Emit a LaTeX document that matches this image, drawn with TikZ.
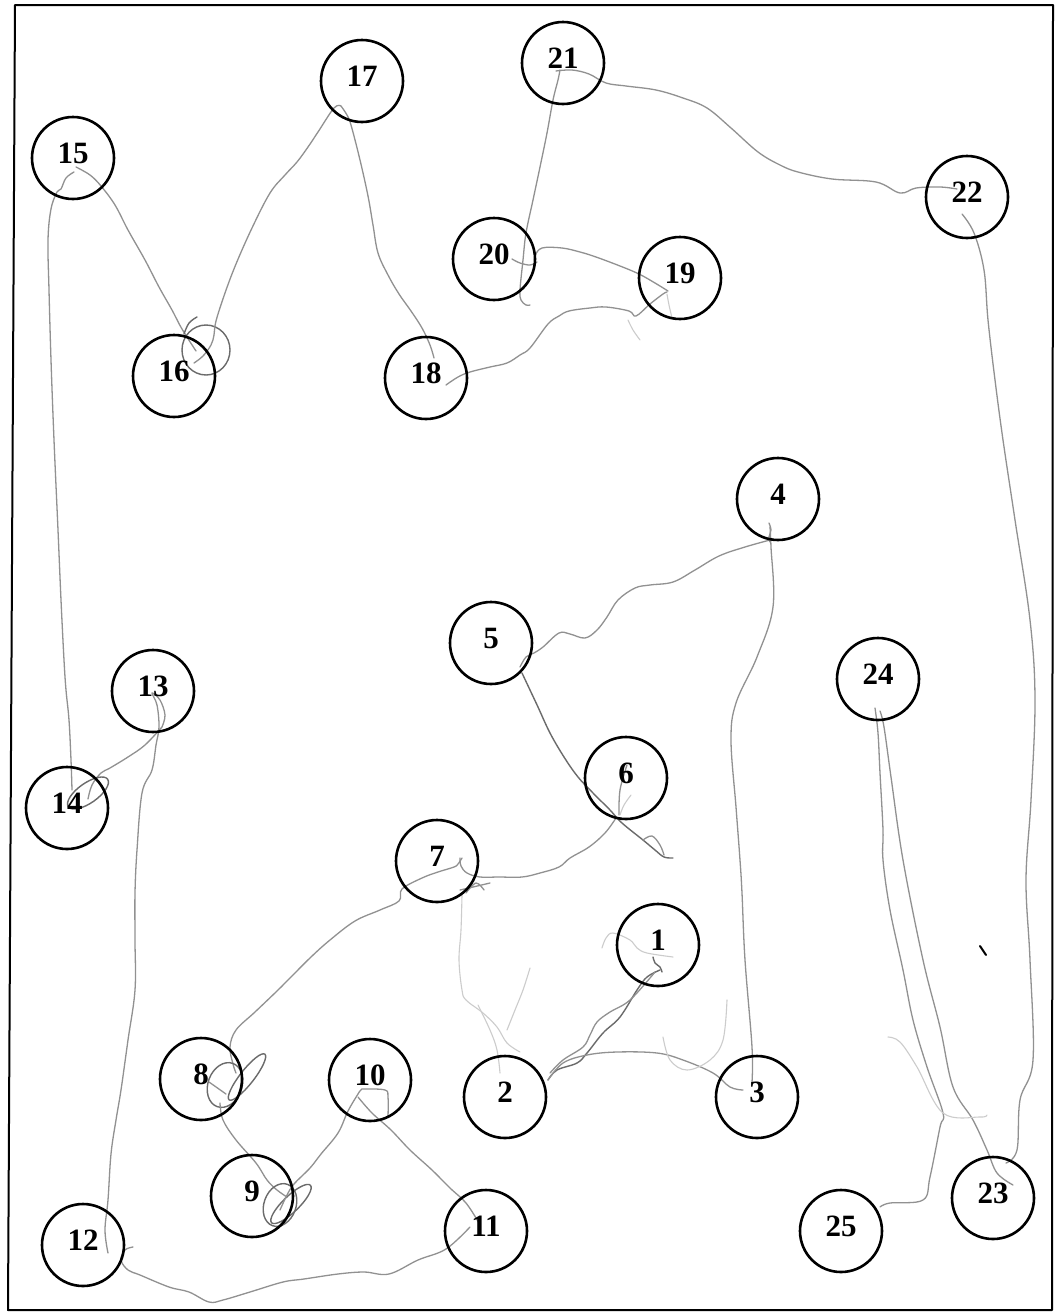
\documentclass[tikz,border=0pt]{standalone}
\usepackage{fontspec}
\setmainfont{Liberation Serif}
\begin{document}
\begin{tikzpicture}[x=1pt,y=-1pt,
  tmt/.style={circle,draw=black,line width=2.6pt,minimum size=82pt,inner sep=0pt},
  lab/.style={font=\bfseries\fontsize{31}{31}\selectfont,inner sep=0pt,text=black},
  trail/.style={draw=black!43,line width=1.3pt,line cap=round,line join=round},
  dk/.style={draw=black!58,line width=1.4pt,line cap=round,line join=round},
  faint/.style={draw=black!20,line width=1.1pt,line cap=round,line join=round}]
\useasboundingbox (0,0) rectangle (1058,1312);
\fill[white] (0,0) rectangle (1058,1312);
\draw[line width=2pt,line join=round] (15,5) -- (1053,5) -- (1052,1310) -- (8,1310) -- cycle;

% ---------- trail (hand drawn) ----------
% 1 -> 2
\draw[dk] plot[smooth,tension=0.6] coordinates {(660,970) (647,977) (637,990) (620,1017) (603,1033) (587,1053) (577,1063) (557,1070) (548,1080)};
\draw[trail] plot[smooth,tension=0.6] coordinates {(655,972) (630,1000) (610,1012) (597,1022) (590,1035) (583,1047) (563,1060) (550,1073)};
\draw[dk] plot[smooth,tension=0.6] coordinates {(653,957) (655,963) (660,967) (662,972)};
\draw[faint] plot[smooth,tension=0.6] coordinates {(602,948) (606,938) (613,933) (630,940) (637,948) (647,953) (673,957)};
% 2 -> 3
\draw[trail] plot[smooth,tension=0.6] coordinates {(548,1080) (563,1063) (587,1055) (617,1052) (657,1053) (683,1060) (713,1073) (730,1087) (743,1090)};
\draw[faint] plot[smooth,tension=0.6] coordinates {(663,1037) (670,1060) (687,1070) (710,1060) (723,1040) (727,1000)};
% 3 -> 4
\draw[trail] plot[smooth,tension=0.6] coordinates {(752,1082) (752,1047) (745,960) (742,893) (740,860) (736,807) (731,740) (736,703) (757,657) (773,607) (771,547) (770,527)};
\draw[trail] plot[smooth,tension=0.6] coordinates {(769,523) (771,530) (769,537) (770,542)};
% 4 -> 5
\draw[trail] plot[smooth,tension=0.6] coordinates {(770,540) (745,547) (719,556) (695,570) (673,582) (650,585) (635,588) (618,600) (607,617) (597,630) (585,638) (570,634) (559,633) (543,647) (534,653) (526,657) (520,667)};
% 5 -> 6
\draw[dk] plot[smooth,tension=0.6] coordinates {(522,673) (530,690) (538,707) (550,733) (564,757) (578,777) (593,793) (610,810) (622,823) (643,840) (655,850) (664,857) (673,858)};
\draw[trail] plot[smooth,tension=0.6] coordinates {(643,840) (652,836) (660,845) (664,855)};
\draw[trail] plot[smooth,tension=0.6] coordinates {(627,765) (620,790) (619,815)};
\draw[faint] plot[smooth,tension=0.6] coordinates {(631,795) (624,805) (620,815)};
% 6 -> 7
\draw[trail] plot[smooth,tension=0.6] coordinates {(616,818) (605,833) (589,847) (570,858) (559,867) (540,873) (522,877) (499,877) (480,877) (467,873) (461,866) (460,858)};
\draw[trail] plot[smooth,tension=0.6] coordinates {(460,890) (473,887) (490,883)};
\draw[trail] plot[smooth,tension=0.6] coordinates {(466,893) (476,883) (484,890)};
% 7 -> 2 (faint)
\draw[faint] plot[smooth,tension=0.6] coordinates {(462,895) (461,930) (459,960) (462,990) (466,1000) (483,1013) (497,1027) (507,1043) (520,1052)};
\draw[faint] plot[smooth,tension=0.6] coordinates {(478,1005) (490,1030) (497,1050) (500,1073)};
\draw[faint] plot[smooth,tension=0.6] coordinates {(507,1030) (515,1010) (523,990) (530,968)};
% 7 -> 8
\draw[trail] plot[smooth,tension=0.6] coordinates {(462,858) (458,864) (454,867) (438,872) (422,878) (402,889) (399,901) (380,910) (355,921) (330,940) (311,957) (290,978) (277,991) (255,1012) (236,1030) (230,1047) (233,1064) (236,1073)};
\draw[dk,rotate around={-20:(225,1085)}] (225,1085) ellipse [x radius=17, y radius=23];
\draw[dk,rotate around={52:(247,1077)}] (247,1077) ellipse [x radius=29, y radius=7];
\draw[trail] (209,1082) -- (226,1094);
% 8 -> 9
\draw[trail] plot[smooth,tension=0.6] coordinates {(220,1103) (223,1120) (236,1140) (256,1163) (267,1180) (277,1190) (287,1197)};
\draw[dk,rotate around={-20:(280,1205)}] (280,1205) ellipse [x radius=16, y radius=22];
\draw[dk,rotate around={44:(291,1204)}] (291,1204) ellipse [x radius=27, y radius=8];
% 9 -> 10
\draw[trail] plot[smooth,tension=0.6] coordinates {(280,1210) (287,1195) (294,1184) (310,1168) (321,1154) (338,1133) (348,1111) (358,1094) (361,1090) (364,1089) (385,1090) (388,1097) (388,1117)};
% 10 -> 11
\draw[trail] plot[smooth,tension=0.6] coordinates {(358,1097) (372,1113) (391,1130) (410,1150) (432,1170) (450,1188) (466,1203) (479,1223)};
% 11 -> 12
\draw[trail] plot[smooth,tension=0.6] coordinates {(470,1227) (446,1249) (418,1260) (389,1274) (364,1272) (338,1274) (304,1279) (283,1282) (250,1292) (223,1300) (209,1302) (189,1292) (169,1287) (140,1275) (128,1270) (121,1260) (125,1250) (133,1247)};
% 12 -> 13
\draw[trail] plot[smooth,tension=0.6] coordinates {(108,1253) (105,1230) (108,1200) (111,1154) (116,1120) (121,1090) (128,1040) (135,990) (135,940) (135,893) (137,850) (142,793) (152,770) (156,745) (159,727) (157,705) (152,693) (160,700) (165,715) (162,727)};
% 13 -> 14
\draw[trail] plot[smooth,tension=0.6] coordinates {(162,727) (145,745) (128,757) (110,768) (101,773) (92,785) (88,799)};
\draw[dk,rotate around={35:(88,793)}] (88,793) ellipse [x radius=24, y radius=10];
% 14 -> 15
\draw[trail] plot[smooth,tension=0.6] coordinates {(72,790) (71,760) (69,720) (66,690) (64,660) (61,600) (58,530) (54,440) (51,360) (49,290) (48,240) (51,209) (57,192) (61,189) (66,178) (74,172)};
% 15 -> 16
\draw[trail] plot[smooth,tension=0.6] coordinates {(76,167) (90,175) (101,186) (115,205) (128,230) (145,260) (159,287) (172,310) (182,329) (196,351)};
\draw[dk] (206,350) ellipse [x radius=24, y radius=25];
\draw[dk] plot[smooth,tension=0.6] coordinates {(197,317) (189,323) (184,334)};
% 16 -> 17
\draw[trail] plot[smooth,tension=0.6] coordinates {(194,363) (203,356) (211,345) (214,335) (216,321) (225,293) (236,264) (252,228) (270,193) (285,175) (297,162) (308,147) (318,132) (334,108) (341,106)};
% 17 -> 18
\draw[trail] plot[smooth,tension=0.6] coordinates {(341,106) (347,115) (351,125) (360,160) (368,196) (373,225) (378,253) (388,275) (399,294) (411,311) (422,328) (430,345) (434,358)};
% 18 -> 19
\draw[trail] plot[smooth,tension=0.6] coordinates {(446,385) (458,377) (470,372) (490,367) (507,363) (520,355) (530,348) (548,324) (559,316) (569,311) (590,308) (606,307) (629,311) (636,316) (650,304) (663,294) (667,292)};
\draw[faint] plot[smooth,tension=0.6] coordinates {(667,294) (669,305) (672,318)};
\draw[faint] plot[smooth,tension=0.6] coordinates {(628,320) (633,330) (640,340)};
% 19 -> 20
\draw[trail] plot[smooth,tension=0.6] coordinates {(668,291) (655,283) (639,274) (620,266) (596,257) (580,252) (562,248) (542,248) (535,256) (535,262)};
\draw[trail] plot[smooth,tension=0.6] coordinates {(512,259) (520,263) (530,265) (537,262)};
% 20 -> 21
\draw[trail] plot[smooth,tension=0.6] coordinates {(530,305) (526,305) (521,300) (520,290) (523,260) (526,233) (533,200) (540,167) (547,133) (553,100) (558,80) (560,70)};
% 21 -> 22
\draw[trail] plot[smooth,tension=0.6] coordinates {(556,71) (572,70) (589,74) (606,83) (626,86) (656,90) (683,98) (707,108) (731,128) (758,152) (780,165) (798,172) (832,179) (876,182) (900,193) (916,188) (940,187) (957,189)};
% 22 -> 23
\draw[trail] plot[smooth,tension=0.6] coordinates {(962,214) (974,233) (984,270) (988,320) (995,380) (1003,440) (1015,520) (1030,620) (1035,700) (1031,800) (1026,880) (1030,960) (1033,1060) (1020,1100) (1017,1150) (1006,1163)};
% 23 -> 24
\draw[trail] plot[smooth,tension=0.6] coordinates {(1013,1185) (997,1173) (987,1150) (973,1120) (953,1087) (940,1027) (923,960) (903,860) (891,777) (884,727) (880,711)};
% 24 -> 25
\draw[trail] plot[smooth,tension=0.6] coordinates {(875,708) (878,733) (880,773) (883,830) (883,860) (890,910) (903,970) (913,1020) (927,1067) (943,1113) (940,1127) (930,1177) (923,1200) (890,1203) (880,1207)};
\draw[faint] plot[smooth,tension=0.6] coordinates {(888,1037) (900,1042) (917,1067) (943,1113) (980,1117) (987,1115)};
\draw[black,line width=2pt,line cap=round] (980,946) -- (986,955);

% ---------- circles ----------
\node[tmt] (n1) at (658,945) {};
\node[tmt] (n2) at (505,1097) {};
\node[tmt] (n3) at (757,1097) {};
\node[tmt] (n4) at (778,499) {};
\node[tmt] (n5) at (491,643) {};
\node[tmt] (n6) at (626,778) {};
\node[tmt] (n7) at (437,861) {};
\node[tmt] (n8) at (201,1079) {};
\node[tmt] (n9) at (252,1196) {};
\node[tmt] (n10) at (370,1080) {};
\node[tmt] (n11) at (486,1231) {};
\node[tmt] (n12) at (83,1245) {};
\node[tmt] (n13) at (153,691) {};
\node[tmt] (n14) at (67,808) {};
\node[tmt] (n15) at (73,158) {};
\node[tmt] (n16) at (174,376) {};
\node[tmt] (n17) at (362,81) {};
\node[tmt] (n18) at (426,378) {};
\node[tmt] (n19) at (680,278) {};
\node[tmt] (n20) at (494,259) {};
\node[tmt] (n21) at (563,63) {};
\node[tmt] (n22) at (967,197) {};
\node[tmt] (n23) at (993,1198) {};
\node[tmt] (n24) at (878,679) {};
\node[tmt] (n25) at (841,1231) {};

\foreach \i in {1,...,25} {
  \node[lab] (t\i) at ([yshift=5pt]n\i.center) {\i};
}
\end{tikzpicture}
\end{document}
